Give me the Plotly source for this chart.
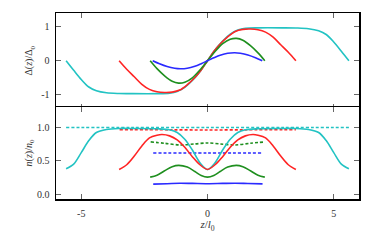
import plotly.graph_objects as go
from plotly.subplots import make_subplots

# ---------------- data ----------------
# Top panel: gap profile Delta(z)/Delta0
z_d_cyan = [-5.6, -5.3, -5.0, -4.7, -4.4, -4.0, -3.5, -3.0, -2.0, -1.5, -1.2, -0.9, -0.6, -0.3, 0.0,
            0.3, 0.6, 0.9, 1.2, 1.5, 2.0, 3.0, 3.5, 4.0, 4.4, 4.7, 5.0, 5.3, 5.6]
d_cyan = [0.0, -0.28, -0.55, -0.77, -0.88, -0.94, -0.96, -0.965, -0.965, -0.95, -0.90, -0.78, -0.58, -0.32, 0.0,
          0.32, 0.58, 0.78, 0.90, 0.95, 0.965, 0.965, 0.96, 0.94, 0.88, 0.77, 0.55, 0.28, 0.0]

z_d_red = [-3.5, -3.2, -2.9, -2.6, -2.3, -2.0, -1.7, -1.4, -1.1, -0.8, -0.5, -0.25, 0.0,
           0.25, 0.5, 0.8, 1.1, 1.4, 1.7, 2.0, 2.3, 2.6, 2.9, 3.2, 3.5]
d_red = [0.0, -0.25, -0.47, -0.69, -0.84, -0.91, -0.93, -0.92, -0.86, -0.70, -0.49, -0.27, 0.0,
         0.27, 0.49, 0.70, 0.86, 0.92, 0.93, 0.91, 0.84, 0.69, 0.47, 0.25, 0.0]

z_d_green = [-2.27, -2.0, -1.7, -1.4, -1.15, -0.9, -0.6, -0.3, 0.0,
             0.3, 0.6, 0.9, 1.15, 1.4, 1.7, 2.0, 2.27]
d_green = [0.0, -0.23, -0.44, -0.60, -0.655, -0.63, -0.50, -0.27, 0.0,
           0.27, 0.50, 0.63, 0.655, 0.60, 0.44, 0.23, 0.0]

z_d_blue = [-2.17, -1.9, -1.6, -1.3, -1.08, -0.8, -0.5, -0.25, 0.0,
            0.25, 0.5, 0.8, 1.08, 1.3, 1.6, 1.9, 2.17]
d_blue = [0.0, -0.09, -0.17, -0.22, -0.235, -0.22, -0.16, -0.085, 0.0,
          0.085, 0.16, 0.22, 0.235, 0.22, 0.17, 0.09, 0.0]

# Bottom panel: density n(z)/n0 (solid) and dashed reference levels
z_n_cyan = [-5.6, -5.3, -5.0, -4.7, -4.4, -4.0, -3.5, -3.0, -2.0, -1.5, -1.2, -0.9, -0.6, -0.3, 0.0,
            0.3, 0.6, 0.9, 1.2, 1.5, 2.0, 3.0, 3.5, 4.0, 4.4, 4.7, 5.0, 5.3, 5.6]
n_cyan = [0.38, 0.45, 0.62, 0.80, 0.92, 0.965, 0.98, 0.98, 0.975, 0.96, 0.92, 0.82, 0.66, 0.47, 0.37,
          0.47, 0.66, 0.82, 0.92, 0.96, 0.975, 0.98, 0.98, 0.965, 0.92, 0.80, 0.62, 0.45, 0.38]

z_n_red = [-3.5, -3.2, -2.9, -2.6, -2.3, -2.0, -1.8, -1.5, -1.2, -0.9, -0.6, -0.3, 0.0,
           0.3, 0.6, 0.9, 1.2, 1.5, 1.8, 2.0, 2.3, 2.6, 2.9, 3.2, 3.5]
n_red = [0.37, 0.44, 0.57, 0.72, 0.84, 0.88, 0.89, 0.87, 0.81, 0.70, 0.56, 0.44, 0.37,
         0.44, 0.56, 0.70, 0.81, 0.87, 0.89, 0.88, 0.84, 0.72, 0.57, 0.44, 0.37]

z_n_green = [-2.27, -2.0, -1.7, -1.4, -1.14, -0.8, -0.5, -0.25, 0.0,
             0.25, 0.5, 0.8, 1.14, 1.4, 1.7, 2.0, 2.27]
n_green = [0.256, 0.285, 0.35, 0.41, 0.43, 0.405, 0.34, 0.28, 0.256,
           0.28, 0.34, 0.405, 0.43, 0.41, 0.35, 0.285, 0.256]

z_n_blue = [-2.15, -1.6, -1.1, -0.6, 0.0, 0.6, 1.1, 1.6, 2.18]
n_blue = [0.152, 0.158, 0.165, 0.162, 0.158, 0.162, 0.165, 0.16, 0.155]

z_nd_cyan = [-5.6, -3.0, 0.0, 3.0, 5.6]
nd_cyan = [0.995, 0.995, 0.995, 0.995, 0.995]

z_nd_red = [-3.48, -1.5, 0.0, 1.5, 3.5]
nd_red = [0.962, 0.96, 0.958, 0.96, 0.962]

z_nd_green = [-2.25, -1.7, -1.1, -0.5, 0.0, 0.5, 1.1, 1.7, 2.28]
nd_green = [0.78, 0.76, 0.735, 0.75, 0.765, 0.75, 0.735, 0.76, 0.78]

z_nd_blue = [-2.15, 0.0, 2.18]
nd_blue = [0.615, 0.615, 0.615]

x_ticks = [-5, 0, 5]
x_ticklabels = ["-5", "0", "5"]
y_top_ticks = [-1, 0, 1]
y_top_labels = ["-1", "0", "1"]
y_bot_ticks = [0.0, 0.5, 1.0]
y_bot_labels = ["0.0", "0.5", "1.0"]

# ---------------- styles ----------------
CYAN = "#22c3c3"
RED = "#ff2424"
GREEN = "#1f8f1f"
BLUE = "#2a2aff"
LW = 1.6
DASH = "3px,2px"
SERIF = "Liberation Serif, Times New Roman, serif"

fig = make_subplots(rows=2, cols=1, shared_xaxes=True, vertical_spacing=0,
                    row_heights=[94 / 186, 92 / 186])

def add(x, y, color, row, dash="solid"):
    fig.add_trace(go.Scatter(x=x, y=y, mode="lines",
                             line=dict(color=color, width=LW, dash=dash, shape="spline", smoothing=0.9),
                             showlegend=False, hoverinfo="skip"), row=row, col=1)

# top panel
add(z_d_cyan, d_cyan, CYAN, 1)
add(z_d_red, d_red, RED, 1)
add(z_d_green, d_green, GREEN, 1)
add(z_d_blue, d_blue, BLUE, 1)

# bottom panel: dashed
add(z_nd_cyan, nd_cyan, CYAN, 2, DASH)
add(z_nd_red, nd_red, RED, 2, DASH)
add(z_nd_green, nd_green, GREEN, 2, DASH)
add(z_nd_blue, nd_blue, BLUE, 2, DASH)
# bottom panel: solid
add(z_n_cyan, n_cyan, CYAN, 2)
add(z_n_red, n_red, RED, 2)
add(z_n_green, n_green, GREEN, 2)
add(z_n_blue, n_blue, BLUE, 2)

tickfont = dict(family=SERIF, size=10, color="#333333")
common = dict(showline=True, linecolor="black", linewidth=1.5, mirror="ticks",
              ticks="inside", ticklen=5, tickwidth=1, tickcolor="#666666",
              showgrid=False, zeroline=False, tickfont=tickfont, automargin=False)

fig.update_xaxes(range=[-6, 6], tickvals=x_ticks, ticktext=x_ticklabels, **common)
fig.update_xaxes(showticklabels=False, row=1, col=1)
fig.update_xaxes(row=2, col=1, ticklabelstandoff=4,
                 title=dict(text="<i>z</i>/<i>l</i><sub>0</sub>",
                            font=dict(family=SERIF, size=11, color="#333333"),
                            standoff=1))

fig.update_yaxes(**common)
split = 92 / 186
fig.update_yaxes(row=1, col=1, range=[-1.4, 1.4], tickvals=y_top_ticks, ticktext=y_top_labels,
                 ticklabelstandoff=3, domain=[split - 1.5 / 186, 1],
                 title=dict(text="\u0394(<i>z</i>)/\u0394<sub>0</sub>",
                            font=dict(family=SERIF, size=10, color="#333333"),
                            standoff=6))
fig.update_yaxes(row=2, col=1, range=[-0.07, 1.3], tickvals=y_bot_ticks, ticktext=y_bot_labels,
                 ticklabelstandoff=3, domain=[0, split],
                 title=dict(text="<i>n</i>(<i>z</i>)/<i>n</i><sub>0</sub>",
                            font=dict(family=SERIF, size=10, color="#333333"),
                            standoff=2))

fig.update_layout(width=374, height=246,
                  margin=dict(l=56, r=15, t=13, b=47),
                  paper_bgcolor="white", plot_bgcolor="white",
                  font=dict(family=SERIF))

fig.write_html("out.html", config={"displayModeBar": False, "staticPlot": True},
               post_script="document.body.style.margin='0px';document.body.style.padding='0px';")
